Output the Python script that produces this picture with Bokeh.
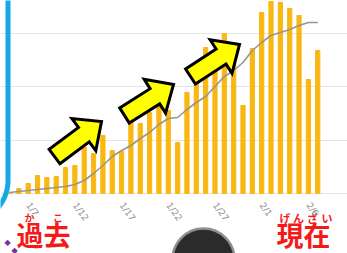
import numpy as np
from bokeh.plotting import figure
from bokeh.models import ColumnDataSource, Range1d, FixedTicker, LinearAxis
from bokeh.core.properties import value
from bokeh.embed import file_html
from bokeh.resources import INLINE

# ---- data ----
dates = ["1/%d" % d for d in range(5, 32)] + ["2/%d" % d for d in range(1, 8)]
cases = [10, 94, 188, 338, 300, 319, 488, 525, 863, 750, 1088, 806, 788, 1350,
         1313, 1519, 1631, 1556, 956, 1894, 2063, 2738, 2456, 3000, 2456, 1650,
         2719, 3394, 3600, 3581, 3469, 3338, 2138, 2681]
avg7 = [19, 38, 56, 75, 94, 113, 131, 169, 244, 375, 525, 694, 806, 900, 1031,
        1144, 1294, 1406, 1425, 1575, 1706, 1819, 2006, 2194, 2306, 2456, 2681,
        2831, 2963, 3019, 3075, 3150, 3206, 3206]
shown_labels = ["1/7", "1/12", "1/17", "1/22", "1/27", "2/1", "2/6"]
grid_values = [0, 1000, 2000, 3000]

n = len(dates)
idx = list(range(n))
src = ColumnDataSource(dict(i=idx, date=dates, cases=cases, avg7=avg7))
tick_idx = [dates.index(s) for s in shown_labels]

# ---- layout (pixels) ----
W, H = 347, 253
x0, step = 9.0, 9.34          # pixel centre of first category, spacing
base, upp = 193.0, 18.75      # baseline pixel row, data units per pixel

p = figure(width=W, height=H, output_backend="svg", toolbar_location=None,
           x_range=Range1d(-x0 / step, (W - x0) / step),
           y_range=Range1d(-(H - base) * upp, base * upp),
           x_axis_location=None, y_axis_location=None,
           min_border=0, min_border_left=0, min_border_right=0,
           min_border_top=0, min_border_bottom=0)
p.outline_line_color = None
p.background_fill_color = "white"
p.border_fill_color = "white"
p.extra_x_ranges = {"px": Range1d(0, W)}
p.extra_y_ranges = {"px": Range1d(H, 0)}

p.xgrid.visible = False
p.ygrid.ticker = FixedTicker(ticks=grid_values)
p.ygrid.grid_line_color = "#e4e4e4"
p.ygrid.grid_line_width = 1
p.ygrid.bounds = (-0.5, n - 0.5)

ax = LinearAxis(fixed_location=0, ticker=FixedTicker(ticks=tick_idx),
                major_label_overrides={i: dates[i] for i in tick_idx})
ax.axis_line_color = None
ax.major_tick_line_color = None
ax.minor_tick_line_color = None
ax.major_label_orientation = -0.95
ax.major_label_text_font_size = "9px"
ax.major_label_text_color = "#8c8c8c"
ax.major_label_text_font = "DejaVu Sans"
ax.major_label_standoff = 4
p.add_layout(ax, "below")

p.vbar(x="i", top="cases", width=0.45, source=src, color="#F9B712")
p.line(x="i", y="avg7", source=src, line_color="#959595", line_width=1.6)

PX = dict(x_range_name="px", y_range_name="px")


# ---- decorations (pixel coordinates) ----
def arrow(tail, tip, head_len=22, head_hw=20, shaft_hw=9):
    t = np.array(tail, float)
    h = np.array(tip, float)
    d = (h - t) / np.linalg.norm(h - t)
    nn = np.array([-d[1], d[0]])
    b = h - head_len * d
    pts = [t + shaft_hw * nn, b + shaft_hw * nn, b + head_hw * nn, h,
           b - head_hw * nn, b - shaft_hw * nn, t - shaft_hw * nn]
    return [float(q[0]) for q in pts], [float(q[1]) for q in pts]


axs, ays = [], []
for tail, tip in [((54, 156), (101, 121)), ((124, 115), (173, 84)),
                  ((190, 76), (239, 44))]:
    a, b = arrow(tail, tip)
    axs.append(a)
    ays.append(b)
p.patches(xs=axs, ys=ays, fill_color="#FFFF00", line_color="black",
          line_width=3, line_join="miter", **PX)

# blue rounded frame (right edge with bottom-right corner)
r = 42.0
ang = np.linspace(0, np.pi / 2, 24)
bx = [7.5, 7.5] + [float(v) for v in (7.5 - r) + r * np.cos(ang)]
by = [-10.0, 180.0] + [float(v) for v in 180 + r * np.sin(ang)]
p.line(bx, by, line_color="#15A8E6", line_width=5, **PX)

# dark round shape at the bottom
p.scatter(x=[203], y=[259], size=62, marker="circle", fill_color="#2b2b2b",
          line_color="#8f8f8f", line_width=2.5, **PX)

jp = value("Noto Sans CJK JP")
red = "#F41A1A"

p.text(x=[16, 276], y=[253, 253], text=["過去", "現在"], text_font=jp,
       text_font_size=value("27px"), text_font_style="bold", text_color=red,
       text_align="left", text_baseline="bottom", **PX)
p.text(x=[29, 57.5], y=[209, 209], text=["か", "こ"], text_font=jp,
       text_font_size=value("10px"), text_font_style="bold", text_color=red,
       text_align="center", text_baseline="top", **PX)
p.text(x=[284.5, 298, 312, 326.5], y=[209, 209, 209, 209],
       text=["げ", "ん", "ざ", "い"], text_font=jp,
       text_font_size=value("11px"), text_font_style="bold", text_color=red,
       text_align="center", text_baseline="top", **PX)
p.text(x=[7, 14], y=[237, 245], text=["◆", "◆"], text_font=value("DejaVu Sans"),
       text_font_size=value("8px"), text_color="#7A2FA6",
       text_align="center", text_baseline="top", **PX)

open("out.html", "w").write(file_html(p, INLINE))
